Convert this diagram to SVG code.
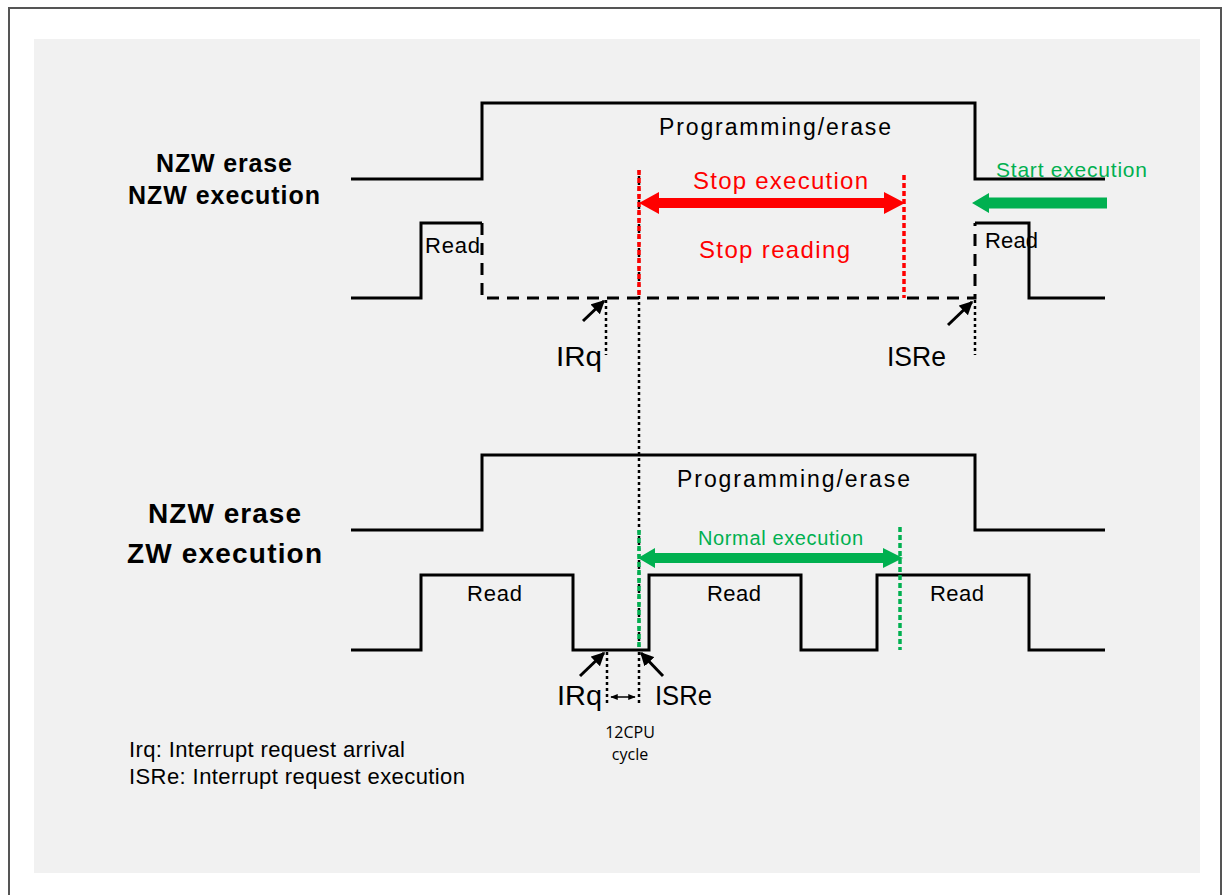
<svg xmlns="http://www.w3.org/2000/svg" width="1223" height="895" viewBox="0 0 1223 895">
<defs>
<marker id="ah" viewBox="0 0 10 10" refX="9" refY="5" markerWidth="4.5" markerHeight="4.5" orient="auto-start-reverse" markerUnits="strokeWidth">
<path d="M0,0 L10,5 L0,10 z" fill="#000"/>
</marker>
<marker id="sh" viewBox="0 0 10 10" refX="9" refY="5" markerWidth="5" markerHeight="5" orient="auto-start-reverse" markerUnits="strokeWidth">
<path d="M0,1 L10,5 L0,9 z" fill="#000"/>
</marker>
</defs>
<style>
.w{fill:none;stroke:#000;stroke-width:3;stroke-linejoin:miter}
.dash{fill:none;stroke:#000;stroke-width:3;stroke-dasharray:12 8}
.dot{fill:none;stroke:#000;stroke-width:2.5;stroke-dasharray:3 3}
.rdot{fill:none;stroke:#f00;stroke-width:3.5;stroke-dasharray:5 3}
.gdot{fill:none;stroke:#00b050;stroke-width:3.5;stroke-dasharray:5 3}
text{font-family:"Liberation Sans",Arial,sans-serif;fill:#000}
.lbl{font-size:23px}
.rd{font-size:22px}
.leg{font-size:22px}
.big{font-size:27px}
.hd{font-size:25px;font-weight:bold}
.hd2{font-size:28px;font-weight:bold}
.red{fill:#f00;font-size:24px}
.grn{fill:#00b050}
.sm{font-size:16px;font-family:"Open Sans","Liberation Sans",sans-serif}
</style>
<rect x="0" y="0" width="1223" height="895" fill="#fff"/>
<path d="M9,896 V8 H1221 V896" fill="none" stroke="#555" stroke-width="2"/>
<rect x="34" y="39" width="1166" height="834" fill="#f1f1f1"/>

<g id="top-pe">
<path class="w" d="M351,179 H482 V103 H975 V179 H1105"/>
<text class="lbl" x="659" y="135" textLength="232" lengthAdjust="spacing">Programming/erase</text>
</g>
<g id="top-read">
<path class="w" d="M351,298 H421 V223 H482"/>
<path class="dash" d="M482,223 V298 H975 V223"/>
<path class="w" d="M975,223 H1029 V298 H1105"/>
<text class="rd" x="425" y="253" textLength="55" lengthAdjust="spacing">Read</text>
<text class="rd" x="985" y="248" textLength="53" lengthAdjust="spacing">Read</text>
</g>
<g id="top-label">
<text class="hd" x="156" y="172" textLength="136" lengthAdjust="spacing">NZW erase</text>
<text class="hd" x="128" y="204" textLength="192" lengthAdjust="spacing">NZW execution</text>
</g>
<g id="top-stop">
<text class="red" x="693" y="189" textLength="175" lengthAdjust="spacing">Stop execution</text>
<text class="red" x="699" y="258" textLength="151" lengthAdjust="spacing">Stop reading</text>
</g>
<g id="top-start">
<text class="grn" font-size="21" x="996" y="177" textLength="151" lengthAdjust="spacing">Start execution</text>
</g>
<g id="top-irq">
<text class="big" x="556" y="366" textLength="46" lengthAdjust="spacingAndGlyphs">IRq</text>
</g>
<g id="top-isre">
<text class="big" x="887" y="366" textLength="59" lengthAdjust="spacingAndGlyphs">ISRe</text>
</g>

<g id="bot-pe">
<path class="w" d="M351,530 H482 V455 H975 V530 H1105"/>
<text class="lbl" x="677" y="487" textLength="233" lengthAdjust="spacing">Programming/erase</text>
</g>
<g id="bot-read">
<path class="w" d="M351,650 H421 V575 H573 V650 H649 V575 H801 V650 H877 V575 H1029 V650 H1105"/>
<text class="rd" x="467" y="601" textLength="55" lengthAdjust="spacing">Read</text>
<text class="rd" x="707" y="601" textLength="54" lengthAdjust="spacing">Read</text>
<text class="rd" x="930" y="601" textLength="54" lengthAdjust="spacing">Read</text>
</g>
<g id="bot-label">
<text class="hd2" x="148" y="523" textLength="153" lengthAdjust="spacing">NZW erase</text>
<text class="hd2" x="127" y="563" textLength="195" lengthAdjust="spacing">ZW execution</text>
</g>
<g id="bot-normal">
<text class="grn" font-size="20" x="698" y="545" textLength="165" lengthAdjust="spacing">Normal execution</text>
</g>
<g id="bot-irq">
<text class="big" x="557" y="705" textLength="45" lengthAdjust="spacingAndGlyphs">IRq</text>
</g>
<g id="bot-isre">
<text class="big" x="655" y="705" textLength="57" lengthAdjust="spacingAndGlyphs">ISRe</text>
</g>
<g id="bot-cycle">
<text class="sm" x="630" y="738" text-anchor="middle">12CPU</text>
<text class="sm" x="630" y="760" text-anchor="middle">cycle</text>
</g>
<g id="legend">
<text class="leg" x="129" y="757" textLength="276" lengthAdjust="spacing">Irq: Interrupt request arrival</text>
<text class="leg" x="129" y="784" textLength="336" lengthAdjust="spacing">ISRe: Interrupt request execution</text>
</g>

<g id="connectors">
<path class="dot" d="M639,170 V650"/>
<path class="rdot" d="M639,170 V298"/>
<path class="rdot" d="M904,175 V298"/>
<path class="dot" d="M606,300 V355"/>
<path class="dot" d="M975,300 V355"/>
<polygon fill="#f00" points="639,203 659,192 659,198 884,198 884,192 905,203 884,214 884,208 659,208 659,214"/>
<polygon fill="#00b050" points="972,203 989,193 989,197.5 1107,197.5 1107,208.5 989,208.5 989,213"/>
<path class="w" d="M583,321 L604,301" marker-end="url(#ah)"/>
<path class="w" d="M948,325 L972,302" marker-end="url(#ah)"/>

<path class="gdot" d="M639,530 V650"/>
<path class="gdot" d="M900,527 V650"/>
<polygon fill="#00b050" points="638,558 655,548 655,553 883,553 883,548 903,558 883,568 883,563 655,563 655,568"/>
<path class="dot" d="M607,652 V705"/>
<path class="dot" d="M639,652 V705"/>
<path class="w" d="M580,676 L604,653" marker-end="url(#ah)"/>
<path class="w" d="M663,676 L641,653" marker-end="url(#ah)"/>
<path d="M611,697 H635" fill="none" stroke="#000" stroke-width="1.5" marker-start="url(#sh)" marker-end="url(#sh)"/>
</g>
</svg>
